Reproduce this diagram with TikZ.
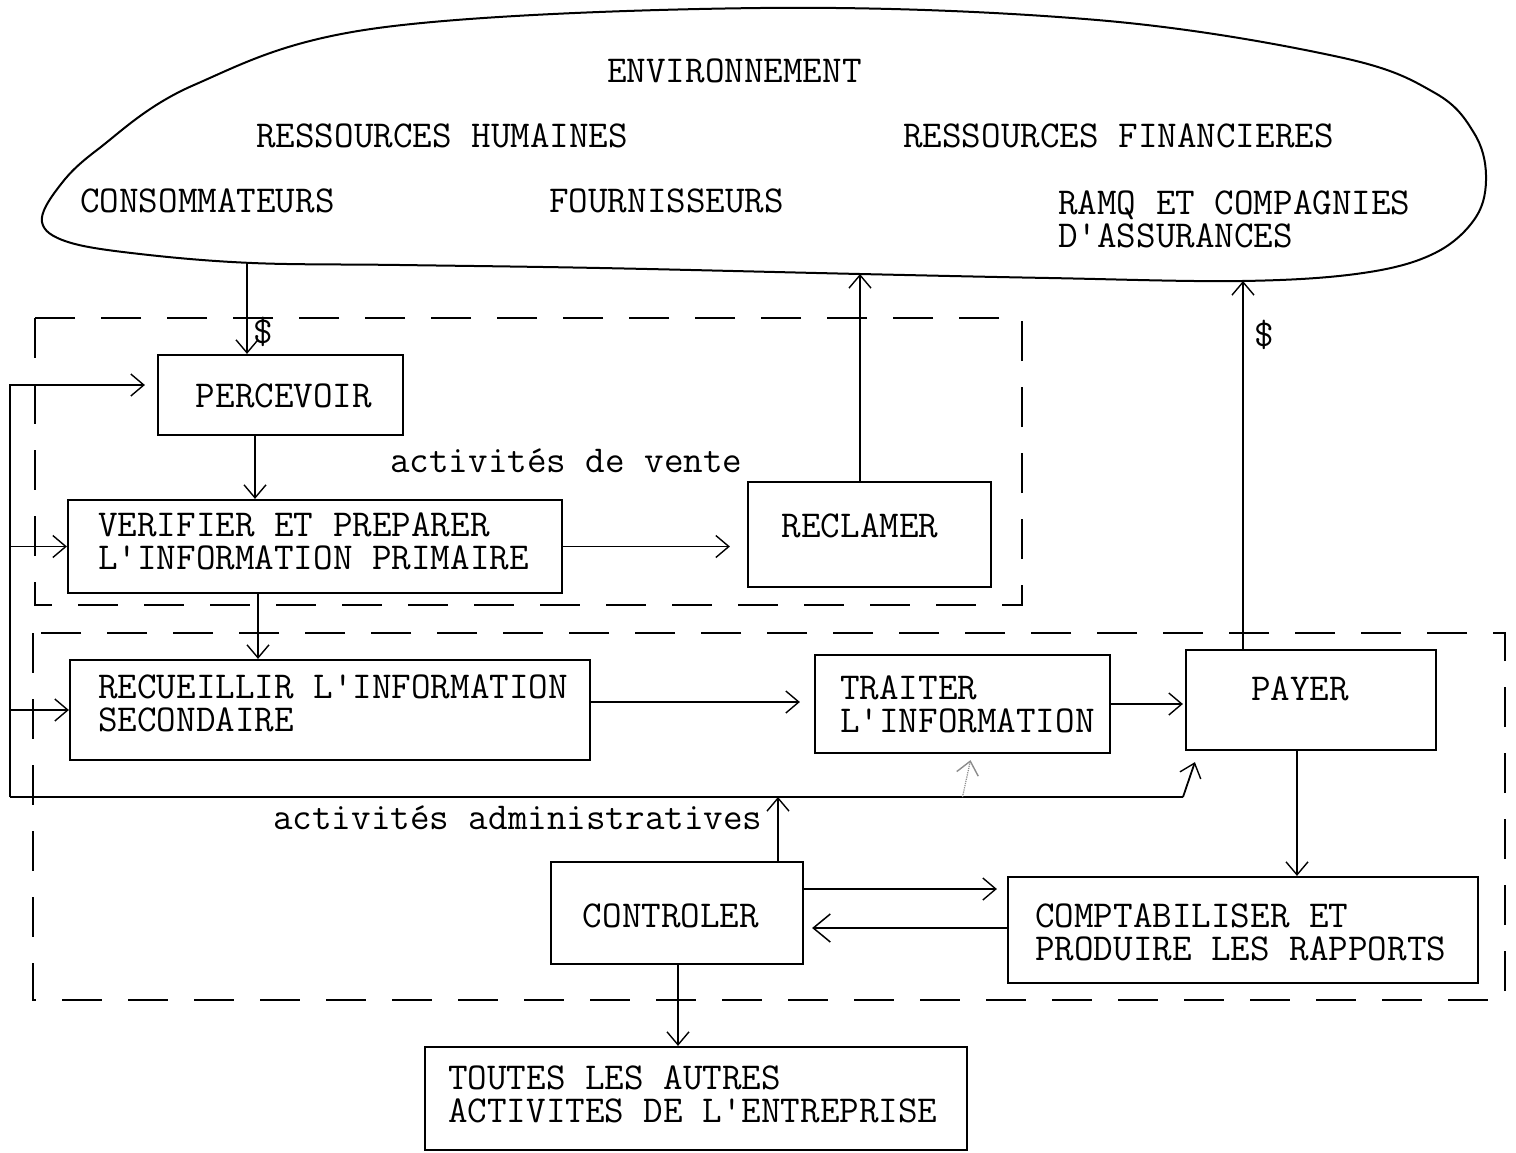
\documentclass[tikz,border=0pt]{standalone}
\usetikzlibrary{arrows.meta,calc}
\begin{document}
\begin{tikzpicture}[x=1pt,y=-1pt,
  box/.style={draw,line width=2.2pt,inner sep=0pt},
  txt/.style={inner sep=0pt,anchor=base west,align=left,
    font=\fontsize{38}{32.5}\selectfont\ttfamily},
  ctxt/.style={txt,anchor=base},
  arr/.style={line width=1.3pt,-{Straight Barb[length=13pt,width=22pt,line width=1.4pt]}},
  zone/.style={line width=1.7pt,dash pattern=on 40pt off 26pt},
  loopline/.style={line width=2.6pt}]
\useasboundingbox (0,0) rectangle (1516,1152);

% environment cloud
\draw[line width=2pt] plot[smooth cycle,tension=0.6] coordinates {
  (42,222) (58,188) (97,150) (194,85) (378,28) (760,8) (1097,20) (1339,57)
  (1435,93) (1474,133) (1486,175) (1476,217) (1435,253) (1363,273) (1242,281)
  (1049,278) (860,274) (600,268) (400,265) (252,263) (140,254) (68,242)};
\coordinate (c1) at (247,263);
\coordinate (c2) at (860,274);
\coordinate (c3) at (1243,281);

% two-line texts are anchored at the baseline of their last line
\node[txt] (env)  at (607,82)  {ENVIRONNEMENT};
\node[txt] (rh)   at (256,147) {RESSOURCES HUMAINES};
\node[txt] (rf)   at (903,147) {RESSOURCES FINANCIERES};
\node[txt] (cons) at (80,212)  {CONSOMMATEURS};
\node[txt] (four) at (549,212) {FOURNISSEURS};
\node[txt] (ramq) at (1058,247) {RAMQ ET COMPAGNIES\\D\textquotesingle ASSURANCES};

% activity zones
\draw[zone] (35,318) rectangle (1022,605);
\draw[zone] (33,633) rectangle (1505,1000);
\node[txt] (vente) at (390,472) {activités de vente};
\node[txt] (admin) at (273,829) {activités administratives};

% process boxes
\node[box,minimum width=245pt,minimum height=80pt]  (perc)   at (280.5,395) {};
\node[box,minimum width=494pt,minimum height=93pt]  (verif)  at (315,546.5) {};
\node[box,minimum width=243pt,minimum height=105pt] (recl)   at (869.5,534.5) {};
\node[box,minimum width=520pt,minimum height=100pt] (recu)   at (330,710) {};
\node[box,minimum width=295pt,minimum height=98pt]  (trait)  at (962.5,704) {};
\node[box,minimum width=250pt,minimum height=100pt] (payer)  at (1311,700) {};
\node[box,minimum width=252pt,minimum height=102pt] (ctrl)   at (677,913) {};
\node[box,minimum width=470pt,minimum height=106pt] (compt)  at (1243,930) {};
\node[box,minimum width=542pt,minimum height=103pt] (toutes) at (696,1098.5) {};

\node[ctxt] (tperc) at (284,407) {PERCEVOIR};
\node[txt] (tverif) at (98,569) {VERIFIER ET PREPARER\\L\textquotesingle INFORMATION PRIMAIRE};
\node[ctxt] (trecl) at (860,537) {RECLAMER};
\node[txt] (trecu) at (98,731) {RECUEILLIR L\textquotesingle INFORMATION\\SECONDAIRE};
\node[txt] (ttrait) at (840,732) {TRAITER\\L\textquotesingle INFORMATION};
\node[ctxt] (tpayer) at (1300,700) {PAYER};
\node[ctxt] (tctrl) at (671,927) {CONTROLER};
\node[txt] (tcompt) at (1035,960) {COMPTABILISER ET\\PRODUIRE LES RAPPORTS};
\node[txt] (ttoutes) at (448,1122) {TOUTES LES AUTRES\\ACTIVITES DE L\textquotesingle ENTREPRISE};

% flows with the environment
\draw[arr] (c1) -- (c1 |- perc.north);
\node[ctxt] (d1) at (263,343) {\$};
\draw[arr] (recl.north -| c2) -- (c2);
\draw[arr] (payer.north -| c3) -- (c3);
\node[ctxt] (d2) at (1264,346) {\$};

% internal flows
\draw[arr] (perc.south -| 255,0) -- (verif.north -| 255,0);
\draw[arr] (verif.south -| 258,0) -- (recu.north -| 258,0);
\draw[arr,shorten >=17pt] (verif.east) -- (recl.west |- verif.east);
\draw[arr,shorten >=14pt] (recu.east |- 0,702) -- (trait.west |- 0,702);
\draw[arr,shorten >=2pt] (trait.east) -- (payer.west |- trait.east);
\draw[arr] (payer.south -| 1297,0) -- (compt.north -| 1297,0);
\draw[arr,shorten >=10pt] (ctrl.east |- 0,889) -- (compt.west |- 0,889);
\draw[arr,shorten >=8pt,-{Straight Barb[length=17pt,width=28pt,line width=1.5pt]},line width=1.6pt]
  (compt.west |- 0,928) -- (ctrl.east |- 0,928);
\draw[arr] (ctrl.south -| 678,0) -- (toutes.north -| 678,0);

% control feedback loop
\coordinate (fb) at (10,797);
\coordinate (fbr) at (1183,797);
\coordinate (cu) at ($(ctrl.north)+(101,0)$);
\draw[arr] (cu) -- (cu |- fb);
\draw[loopline] (fb) -- (fbr);
\draw[arr,line width=1.8pt] (fbr) -- ($(payer.south west)+(10,11)$);
\draw[arr,line width=1.2pt,draw=black!45,densely dotted] (trait.south |- fb) -- ($(trait.south)+(8,6)$);
\draw[loopline,-{Straight Barb[length=13pt,width=22pt,line width=1.4pt]},shorten >=12pt]
  (fb) |- ($(perc.west)+(0,-10)$);
\draw[arr] (fb |- verif.west) -- (verif.west);
\draw[arr] (fb |- recu.west) -- (recu.west);
\end{tikzpicture}
\end{document}
